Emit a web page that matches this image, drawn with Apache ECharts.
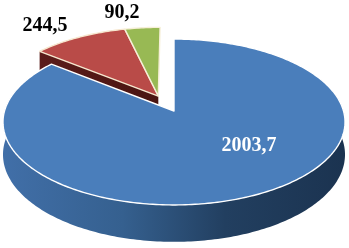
<!DOCTYPE html>
<html>
<head>
<meta charset="utf-8">
<style>html,body{margin:0;padding:0;background:#fff}#c{width:349px;height:248px}</style>
<script src="https://cdn.jsdelivr.net/npm/echarts@6/dist/echarts.min.js"></script>
</head>
<body>
<div id="c"></div>
<script>
const categories = ['A', 'B', 'C'];
const seriesValues = [2003.7, 244.5, 90.2];
const valueLabels = ['2003,7', '244,5', '90,2'];

const labelAnchors = [[249, 146], [45, 26], [122, 13]];
const topFills = ['#4a7ebb', '#b94b48', '#98b954'];
const edgeColors = ['#ffffff', '#f6e7cf', '#f6efd8'];
const wallStops = [
  [[0, '#416fa8'], [0.35, '#35608f'], [0.65, '#223f60'], [1, '#1b3350']],
  [[0, '#5b1c1a'], [1, '#4a1512']],
  null
];
const explode = [[0, 0], [-0.095, 0.188], [-0.095, 0.188]];
const view = { cx: 174, cy: 111, rx: 169.5, ry: 81.5, k: 0.1325, depth: 32 };

const total = seriesValues.reduce((a, b) => a + b, 0);
const starts = [];
seriesValues.reduce((acc, v, i) => { starts[i] = acc; return acc + v; }, 0);
const angleOf = v => v / total * Math.PI * 2;

function project(u, v, z) {
  const w = 1 + view.k * v;
  return [view.cx + view.rx * u / w, view.cy - view.ry * v / w + (z || 0) * view.depth / w];
}
function slicePoints(i) {
  const a0 = angleOf(starts[i]), a1 = a0 + angleOf(seriesValues[i]);
  const off = explode[i], pts = [project(off[0], off[1])];
  const n = Math.max(6, Math.round((a1 - a0) * 60));
  for (let s = 0; s <= n; s++) {
    const t = a0 + (a1 - a0) * s / n;
    pts.push(project(Math.sin(t) + off[0], Math.cos(t) + off[1]));
  }
  return pts;
}
function wallPoints(i) {
  const off = explode[i];
  if (i === 0) {
    const pts = [], back = [];
    for (let d = 75; d <= 285; d += 1) {
      const t = d * Math.PI / 180, u = Math.sin(t), v = Math.cos(t);
      pts.push(project(u, v));
      back.unshift(project(u, v, 1));
    }
    return pts.concat(back);
  }
  const a0 = angleOf(starts[i]);
  const u = Math.sin(a0) + off[0], v = Math.cos(a0) + off[1];
  return [project(u, v), project(off[0], off[1]), project(off[0], off[1], 1), project(u, v, 1)];
}
function gradient(stops) {
  return new echarts.graphic.LinearGradient(0, 0, 1, 0, stops.map(s => ({ offset: s[0], color: s[1] })));
}

const chart = echarts.init(document.getElementById('c'), null, { renderer: 'canvas' });
const data = categories.map((c, i) => ({ name: c, value: seriesValues[i] }));
chart.setOption({
  animation: false,
  backgroundColor: '#ffffff',
  series: [
    {
      type: 'custom', coordinateSystem: 'none', silent: true, data, z: 1,
      renderItem: (p) => wallStops[p.dataIndex] ? ({
        type: 'polygon',
        shape: { points: wallPoints(p.dataIndex) },
        style: { fill: gradient(wallStops[p.dataIndex]) }
      }) : null
    },
    {
      type: 'custom', coordinateSystem: 'none', silent: true, data, z: 2,
      renderItem: (p) => ({
        type: 'polygon',
        shape: { points: slicePoints(p.dataIndex) },
        style: { fill: topFills[p.dataIndex], stroke: edgeColors[p.dataIndex], lineWidth: 1.4, lineJoin: 'round' }
      })
    },
    {
      type: 'custom', coordinateSystem: 'none', silent: true, data, z: 3,
      renderItem: (p) => ({
        type: 'text',
        x: labelAnchors[p.dataIndex][0],
        y: labelAnchors[p.dataIndex][1],
        style: {
          text: valueLabels[p.dataIndex],
          font: 'bold 20px "Liberation Serif"',
          fill: p.dataIndex === 0 ? '#ffffff' : '#000000',
          align: 'center',
          verticalAlign: 'middle'
        }
      })
    }
  ]
});
</script>
</body>
</html>
